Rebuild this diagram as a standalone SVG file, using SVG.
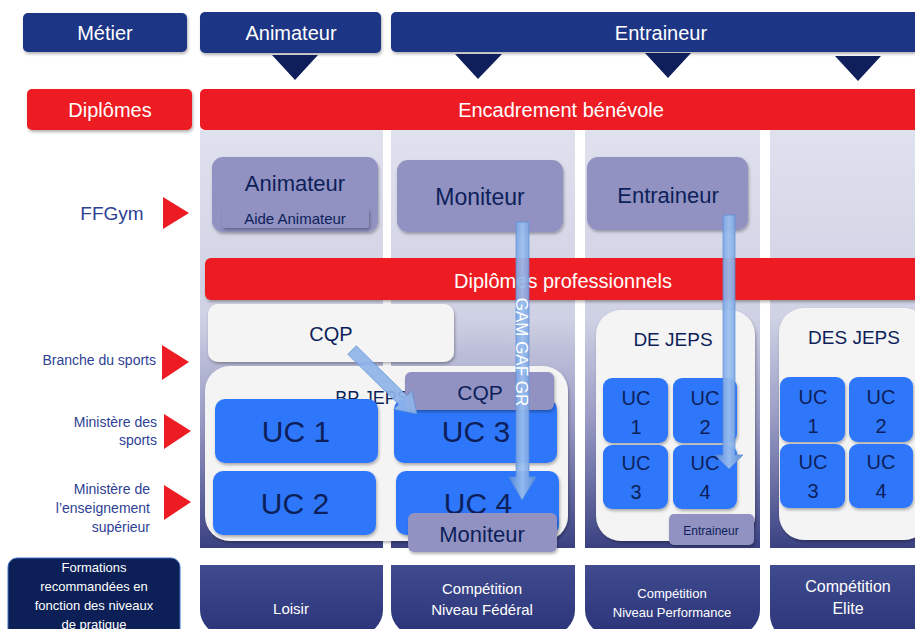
<svg xmlns="http://www.w3.org/2000/svg" width="915" height="629" viewBox="0 0 915 629">
<defs>
<linearGradient id="col" x1="0" y1="0" x2="0" y2="1">
<stop offset="0" stop-color="#dfe1ee"/>
<stop offset="0.45" stop-color="#cfd1e4"/>
<stop offset="0.7" stop-color="#9799c3"/>
<stop offset="1" stop-color="#3a4182"/>
</linearGradient>
<linearGradient id="tab" x1="0" y1="0" x2="0" y2="1">
<stop offset="0" stop-color="#3f4b8e"/>
<stop offset="1" stop-color="#2c3479"/>
</linearGradient>
<linearGradient id="arr" x1="0" y1="0" x2="1" y2="0">
<stop offset="0" stop-color="#5a8bd6"/>
<stop offset="0.5" stop-color="#9cc0f0"/>
<stop offset="1" stop-color="#5a8bd6"/>
</linearGradient>
<filter id="sh" x="-10%" y="-10%" width="130%" height="140%">
<feDropShadow dx="1" dy="2" stdDeviation="1.5" flood-color="#000" flood-opacity="0.3"/>
</filter>
</defs>
<style>
text{font-family:"Liberation Sans","DejaVu Sans",sans-serif;text-anchor:middle}
.w{fill:#ffffff}
.d{fill:#0d1f5a}
.l{fill:#2e3f95;text-anchor:end}
.navy{fill:#1e3585}
.red{fill:#ed1c24}
.tri{fill:#0e1f5b}
.pur{fill:#9192c1}
.wb{fill:#f4f4f4}
.uc{fill:#2f77fb}
.rt{fill:#ed1c24}
.col{fill:url(#col)}
.tab{fill:url(#tab)}
.n{font-family:"Liberation Sans Narrow","Liberation Sans",sans-serif}
</style>

<!-- columns background -->
<g id="columns">
<rect class="col" x="200" y="130" width="183" height="418"/>
<rect class="col" x="391" y="130" width="184" height="418"/>
<rect class="col" x="585" y="130" width="175" height="418"/>
<rect class="col" x="770" y="130" width="145" height="418"/>
</g>

<!-- top row -->
<g id="metier"><rect class="navy" x="23" y="13" width="164" height="39" rx="5" filter="url(#sh)"/><text class="w" x="105" y="40" font-size="20">Métier</text></g>
<g id="animateur-metier"><rect class="navy" x="200" y="12" width="181" height="41" rx="5" filter="url(#sh)"/><text class="w" x="291" y="40" font-size="20">Animateur</text>
<polygon class="tri" points="272,55 318,55 295,80"/></g>
<g id="entraineur-metier"><path class="navy" d="M396,12 H915 V52 H396 a5,5 0 0 1 -5,-5 V17 a5,5 0 0 1 5,-5 Z" filter="url(#sh)"/><text class="w" x="661" y="40" font-size="20">Entraineur</text>
<polygon class="tri" points="455,54 502,54 478,79"/>
<polygon class="tri" points="645,53 691,53 668,78"/>
<polygon class="tri" points="835,56 881,56 858,81"/></g>

<!-- diplomes row -->
<g id="diplomes"><rect class="red" x="27" y="89" width="165" height="41" rx="5" filter="url(#sh)"/><text class="w" x="110" y="117" font-size="20">Diplômes</text></g>
<g id="encadrement"><path class="red" d="M205,89 H915 V130 H205 a5,5 0 0 1 -5,-5 V94 a5,5 0 0 1 5,-5 Z"/><text class="w" x="561" y="117" font-size="20">Encadrement bénévole</text></g>

<!-- FFGym -->
<g id="ffgym"><text x="112" y="220" font-size="19" style="fill:#2e3f95">FFGym</text><polygon class="rt" points="163,197 189,213 163,229"/></g>
<g id="animateur-ff"><rect class="pur" x="212" y="157" width="166" height="75" rx="11" filter="url(#sh)"/><text class="d" x="295" y="191" font-size="22">Animateur</text>
<rect class="pur" x="222" y="208" width="147" height="20" rx="3" filter="url(#sh)"/><text class="d" x="295" y="224" font-size="15">Aide Animateur</text></g>
<g id="moniteur-ff"><rect class="pur" x="397" y="160" width="166" height="72" rx="11" filter="url(#sh)"/><text class="d" x="480" y="205" font-size="23">Moniteur</text></g>
<g id="entraineur-ff"><rect class="pur" x="587" y="157" width="161" height="73" rx="11" filter="url(#sh)"/><text class="d" x="668" y="203" font-size="22">Entraineur</text></g>

<!-- diplomes professionnels -->
<g id="dipl-pro"><path class="red" d="M211,258 H915 V300 H211 a6,6 0 0 1 -6,-6 V264 a6,6 0 0 1 6,-6 Z" filter="url(#sh)"/><text class="w" x="563" y="288" font-size="20">Diplômes professionnels</text></g>

<!-- left labels -->
<g id="branche"><text class="l" x="156" y="365" font-size="14">Branche du sports</text><polygon class="rt" points="162,345 189,362 162,380"/></g>
<g id="ministere-sports"><text class="l" x="157" y="427" font-size="14">Ministère des</text><text class="l" x="157" y="445" font-size="14">sports</text><polygon class="rt" points="164,414 191,431 164,449"/></g>
<g id="ministere-sup"><text class="l" x="150" y="494" font-size="14">Ministère de</text><text class="l" x="150" y="513" font-size="14">l’enseignement</text><text class="l" x="150" y="532" font-size="14">supérieur</text><polygon class="rt" points="164,485 191,502 164,520"/></g>

<!-- CQP branche -->
<g id="cqp"><rect class="wb" x="208" y="304" width="246" height="58" rx="10" filter="url(#sh)"/><text class="d" x="331" y="341" font-size="20">CQP</text></g>

<!-- BP JEPS -->
<g id="bpjeps"><rect class="wb" x="205" y="366" width="363" height="175" rx="25" filter="url(#sh)"/><text class="d" x="372" y="404" font-size="18">BP JEPS</text>
<rect class="uc" x="215" y="399" width="163" height="64" rx="10" filter="url(#sh)"/><text class="d" x="296" y="442" font-size="30">UC 1</text>
<rect class="uc" x="394" y="399" width="163" height="64" rx="10" filter="url(#sh)"/><text class="d" x="476" y="442" font-size="30">UC 3</text>
<rect class="uc" x="213" y="471" width="163" height="64" rx="10" filter="url(#sh)"/><text class="d" x="295" y="514" font-size="30">UC 2</text>
<rect class="uc" x="396" y="471" width="163" height="64" rx="10" filter="url(#sh)"/><text class="d" x="478" y="514" font-size="30">UC 4</text>
<rect class="pur" x="405" y="372" width="149" height="38" rx="6" filter="url(#sh)"/><text class="d" x="480" y="400" font-size="21">CQP</text>
<rect class="pur" x="408" y="513" width="149" height="39" rx="6" filter="url(#sh)"/><text class="d" x="482" y="542" font-size="22">Moniteur</text></g>

<!-- DE JEPS -->
<g id="dejeps"><rect class="wb" x="596" y="310" width="159" height="231" rx="25" filter="url(#sh)"/><text class="d" x="673" y="346" font-size="19">DE JEPS</text>
<rect class="uc" x="603" y="378" width="65" height="65" rx="9" filter="url(#sh)"/><text class="d" x="636" y="405" font-size="20">UC</text><text class="d" x="636" y="434" font-size="20">1</text>
<rect class="uc" x="673" y="378" width="64" height="65" rx="9" filter="url(#sh)"/><text class="d" x="705" y="405" font-size="20">UC</text><text class="d" x="705" y="434" font-size="20">2</text>
<rect class="uc" x="603" y="445" width="65" height="64" rx="9" filter="url(#sh)"/><text class="d" x="636" y="470" font-size="20">UC</text><text class="d" x="636" y="499" font-size="20">3</text>
<rect class="uc" x="673" y="445" width="64" height="64" rx="9" filter="url(#sh)"/><text class="d" x="705" y="470" font-size="20">UC</text><text class="d" x="705" y="499" font-size="20">4</text>
<rect class="pur" x="669" y="514" width="85" height="31" rx="5" filter="url(#sh)"/><text class="d" x="711" y="535" font-size="12">Entraineur</text></g>

<!-- DES JEPS -->
<g id="desjeps"><rect class="wb" x="779" y="308" width="150" height="232" rx="25" filter="url(#sh)"/><text class="d" x="854" y="344" font-size="19">DES JEPS</text>
<rect class="uc" x="780" y="377" width="65" height="65" rx="9" filter="url(#sh)"/><text class="d" x="813" y="404" font-size="20">UC</text><text class="d" x="813" y="433" font-size="20">1</text>
<rect class="uc" x="849" y="377" width="64" height="65" rx="9" filter="url(#sh)"/><text class="d" x="881" y="404" font-size="20">UC</text><text class="d" x="881" y="433" font-size="20">2</text>
<rect class="uc" x="780" y="444" width="65" height="64" rx="9" filter="url(#sh)"/><text class="d" x="813" y="469" font-size="20">UC</text><text class="d" x="813" y="498" font-size="20">3</text>
<rect class="uc" x="849" y="444" width="64" height="64" rx="9" filter="url(#sh)"/><text class="d" x="881" y="469" font-size="20">UC</text><text class="d" x="881" y="498" font-size="20">4</text></g>

<!-- connectors -->
<g id="connectors">
<path d="M516,222 H529 V477 H536 L522,500 L509,477 H516 Z" fill="url(#arr)" stroke="#5d8ed6" stroke-width="0.8" opacity="0.92"/>
<text class="w" transform="translate(516,352) rotate(90)" font-size="17">GAM GAF GR</text>
<path d="M723,215 H735 V455 H743 L729,469 L715,455 H723 Z" fill="url(#arr)" stroke="#5d8ed6" stroke-width="0.8" opacity="0.92"/>
<path d="M356.2,345.7 L407,395.7 L411.9,390.7 L417,414 L393.7,409.3 L398.6,404.3 L347.8,354.3 Z" fill="#8fb4ea" stroke="#5d8ed6" stroke-width="0.8" opacity="0.92"/>
</g>

<!-- bottom tabs -->
<g id="formations"><rect x="8" y="558" width="172" height="90" rx="9" fill="#0c1f56" stroke="#3a6fc4" stroke-width="1"/>
<text class="w n" x="94" y="572" font-size="13">Formations</text><text class="w n" x="94" y="591" font-size="13">recommandées en</text><text class="w n" x="94" y="610" font-size="13">fonction des niveaux</text><text class="w n" x="94" y="629" font-size="13">de pratique</text></g>
<g id="loisir"><path class="tab" d="M200,565 H383 V610 a25,25 0 0 1 -25,25 H225 a25,25 0 0 1 -25,-25 Z"/><text class="w n" x="291" y="614" font-size="15">Loisir</text></g>
<g id="federal"><path class="tab" d="M391,565 H575 V610 a25,25 0 0 1 -25,25 H416 a25,25 0 0 1 -25,-25 Z"/><text class="w n" x="482" y="594" font-size="15">Compétition</text><text class="w n" x="482" y="615" font-size="15">Niveau Fédéral</text></g>
<g id="performance"><path class="tab" d="M585,565 H760 V610 a25,25 0 0 1 -25,25 H610 a25,25 0 0 1 -25,-25 Z"/><text class="w n" x="672" y="598" font-size="13">Compétition</text><text class="w n" x="672" y="617" font-size="13">Niveau Performance</text></g>
<g id="elite"><path class="tab" d="M770,565 H915 V640 H795 a25,25 0 0 1 -25,-25 Z"/><text class="w n" x="848" y="592" font-size="16">Compétition</text><text class="w n" x="848" y="614" font-size="16">Elite</text></g>
</svg>
